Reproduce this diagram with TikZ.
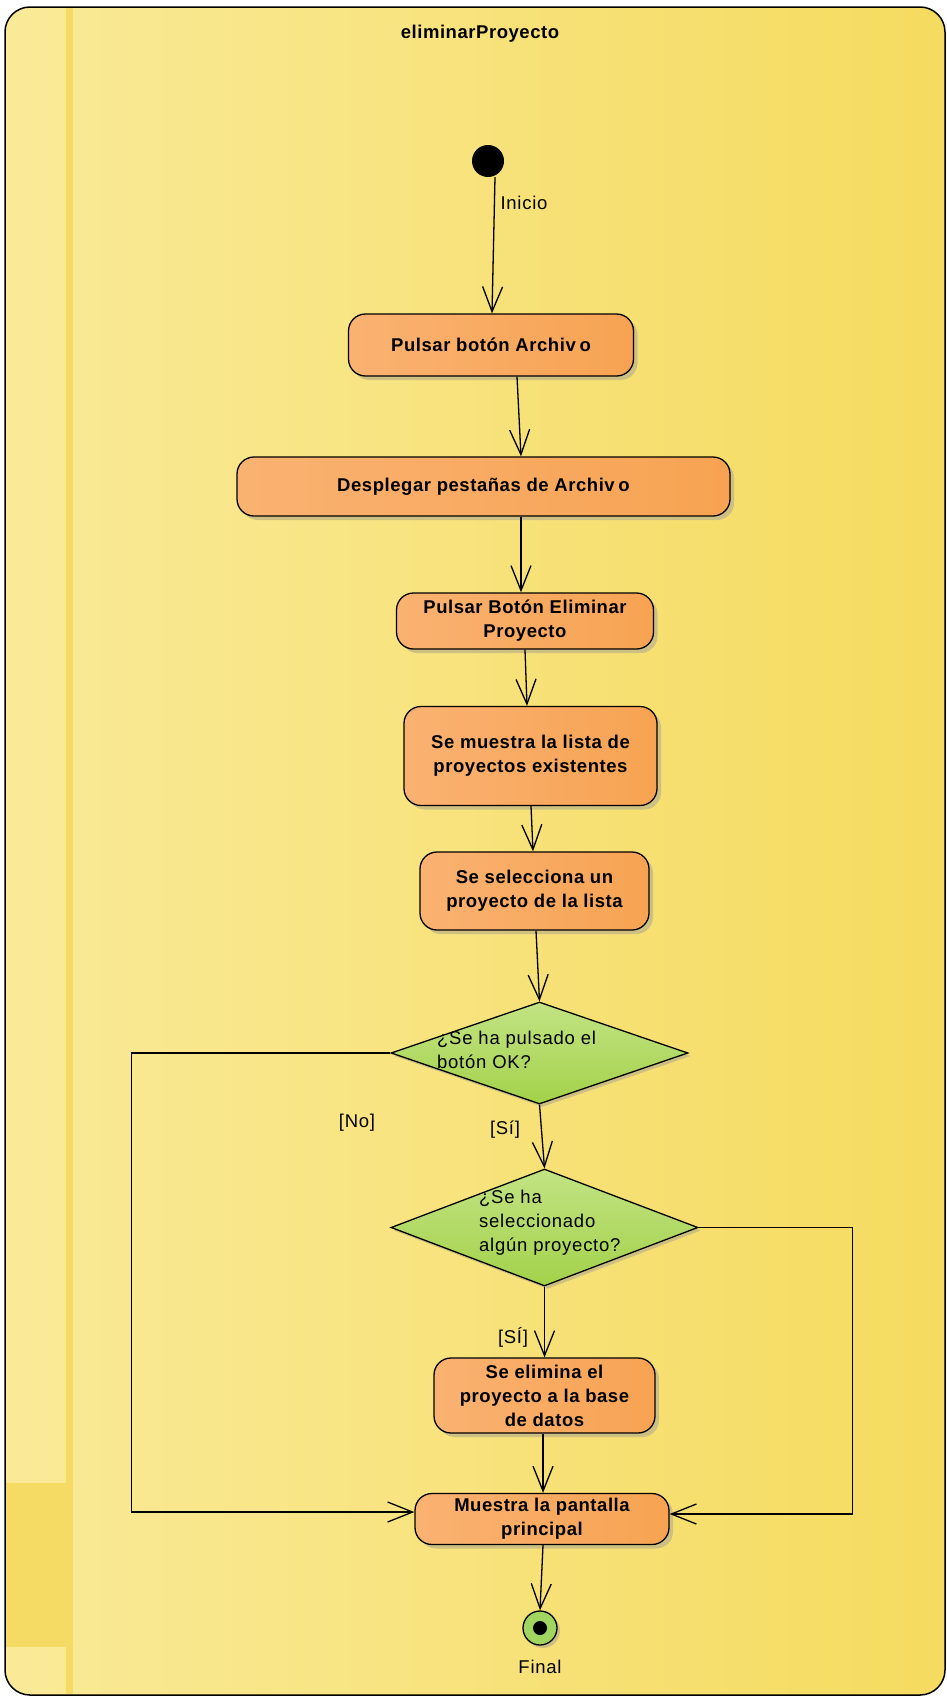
\documentclass[tikz,border=0pt]{standalone}
\usepackage{fontspec}
\setmainfont{Liberation Sans}
\newfontfamily\lblfont[LetterSpace=3]{Liberation Sans}
\newfontfamily\txtfont[LetterSpace=4]{Liberation Sans}
\usetikzlibrary{arrows.meta,shapes.geometric,shadows,calc}

\definecolor{bgL}{RGB}{250,234,152}
\definecolor{bgM}{RGB}{247,228,135}
\definecolor{bgR}{RGB}{245,219,95}
\definecolor{stripe}{RGB}{245,218,100}
\definecolor{orL}{RGB}{250,178,114}
\definecolor{orM}{RGB}{251,192,136}
\definecolor{orR}{RGB}{247,163,82}
\definecolor{grT}{RGB}{194,227,132}
\definecolor{grB}{RGB}{163,210,74}
\definecolor{shad}{RGB}{205,192,130}
\definecolor{finG}{RGB}{160,214,95}

\tikzset{
  act/.style={draw=black, line width=1.3pt, rounded corners=17pt,
    left color=orL, middle color=orM, right color=orR,
    font=\lblfont\bfseries\fontsize{18.5}{24}\selectfont, align=center, inner sep=0pt,
    drop shadow={shadow xshift=4pt, shadow yshift=-4pt, fill=shad, opacity=1}},
  dec/.style={diamond, draw=black, line width=1.3pt, top color=grT, bottom color=grB,
    inner sep=0pt,
    drop shadow={shadow xshift=3pt, shadow yshift=-3pt, fill=shad, opacity=1}},
  lbl/.style={font=\txtfont\fontsize{18.5}{24}\selectfont, inner sep=0pt},
  flow/.style={line width=1.3pt, -{Straight Barb[length=25pt,width=20pt]}},
  plain/.style={line width=1.3pt}
}

\begin{document}
\begin{tikzpicture}[x=1pt, y=-1pt]
\useasboundingbox (0,0) rectangle (946,1697);
\fill[white] (0,0) rectangle (946,1697);
% frame
\shade[left color=bgL, middle color=bgM, right color=bgR, rounded corners=25pt] (5,7) rectangle (945,1695);
\fill[stripe] (66,8) rectangle (73,1694);
\fill[stripe] (6,1483) rectangle (73,1647);
\draw[line width=1.5pt, rounded corners=25pt] (5,7) rectangle (945,1695);

\node[font=\lblfont\bfseries\fontsize{18.5}{24}\selectfont, inner sep=0pt] (tit) at (480,34) {eliminarProyecto};

\node[circle, fill=black, minimum size=32pt, inner sep=0pt] (init) at (488,161) {};
\node[lbl] (ini) at (524,203) {Inicio};

\node[act, minimum width=285pt, minimum height=62pt] (b1) at (491,345) {Pulsar botón Archiv\hspace{0.2em}o};
\node[act, minimum width=493pt, minimum height=59pt] (b2) at (483.5,486.5) {Desplegar pestañas de Archiv\hspace{0.2em}o};
\node[act, minimum width=257pt, minimum height=56pt] (b3) at (525,621) {Pulsar Botón Eliminar\\Proyecto};
\node[act, minimum width=253pt, minimum height=99pt] (b4) at (530.5,756) {Se muestra la lista de\\proyectos existentes};
\node[act, minimum width=229pt, minimum height=78pt] (b5) at (534.5,891) {Se selecciona un\\proyecto de la lista};
\node[dec, minimum width=297pt, minimum height=102pt] (d1) at (539.5,1053) {};
\node[lbl, anchor=west, align=left] (q1) at (437,1050) {¿Se ha pulsado el\\botón OK?};
\node[dec, minimum width=307pt, minimum height=117pt] (d2) at (544.5,1227.5) {};
\node[lbl, anchor=west, align=left] (q2) at (479,1223) {¿Se ha\\seleccionado\\algún proyecto?};
\node[act, minimum width=221pt, minimum height=75pt] (b6) at (544.5,1395.5) {Se elimina el\\proyecto a la base\\de datos};
\node[act, minimum width=254pt, minimum height=51pt] (b7) at (542,1519) {Muestra la pantalla\\principal};
\node[circle, draw=black, line width=1.3pt, fill=finG, minimum size=34pt, inner sep=0pt,
  drop shadow={shadow xshift=3pt, shadow yshift=-3pt, fill=shad, opacity=1}] (fin) at (540,1628) {};
\node[circle, fill=black, minimum size=14pt, inner sep=0pt] (findot) at (fin.center) {};
\node[lbl] (fl) at (540,1667) {Final};

\node[lbl] (no) at (357,1123) {[No]};
\node[lbl] (si1) at (505,1130) {[Sí]};
\node[lbl] (si2) at (513,1337) {[SÍ]};

\draw[flow] ([xshift=7pt]init.south) -- ([xshift=1pt]b1.north);
\draw[flow] ([xshift=26pt]b1.south) -- ([xshift=37.5pt]b2.north);
\draw[flow] ([xshift=37.5pt]b2.south) -- ([xshift=-4pt]b3.north);
\draw[flow] (b3.south) -- ([xshift=-3.5pt]b4.north);
\draw[flow] ([xshift=0.5pt]b4.south) -- ([xshift=-1.5pt]b5.north);
\draw[flow] ([xshift=1.5pt]b5.south) -- (d1.north);
\draw[flow] (d1.south) -- (d2.north);
\draw[flow] (d2.south) -- (b6.north);
\draw[flow] ([xshift=-1.5pt]b6.south) -- ([xshift=1pt]b7.north);
\draw[flow] ([xshift=1pt]b7.south) -- (fin.north);
\draw[flow] (d1.west) -- ++(-259,0) |- ([yshift=7pt]b7.west);
\draw[flow] (d2.east) -- ++(154,0) |- ([yshift=5pt]b7.east);
\end{tikzpicture}
\end{document}
